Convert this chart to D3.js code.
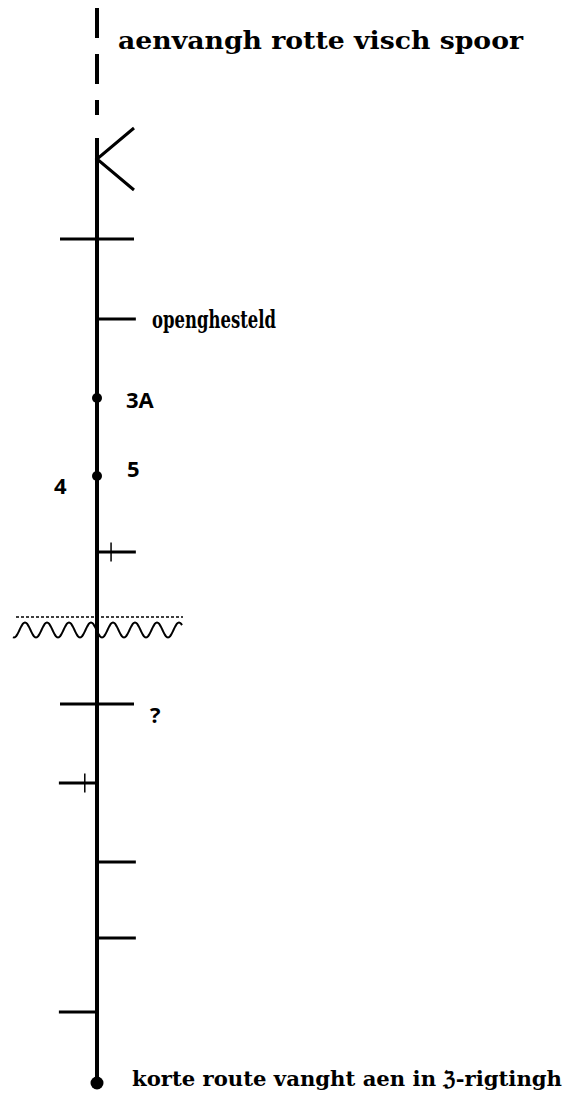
<!DOCTYPE html>
<html>
<head>
<meta charset="utf-8">
<script src="https://cdn.jsdelivr.net/npm/d3@7"></script>
<style>
  html, body { margin: 0; padding: 0; background: #fff; }
</style>
</head>
<body>
<svg id="chart" width="568" height="1094"></svg>
<script>
  //  1] Track data: distances along the line, top = 0 --------//
  const trackStart = 138;
  const trackEnd = 1083;
  const dashedStart = 8;
  const dashedEnd = 115;
  const switchAt = [159];                       // "K" shaped switch
  const crossings = [239, 704];                 // bars on both sides
  const rightTicks = [319, 552, 862, 938];
  const leftTicks = [783, 1012];
  const markedTicks = [552, 783];               // ticks with a small cross
  const stations = [398, 476];                  // small dots
  const endDot = [1083];
  const riverAt = 630;
  const levelAt = 617;

  const labels = [
    { text: "aenvangh rotte visch spoor", at: 49, side: "right", font: "frak", len: 405 },
    { text: "openghesteld", at: 328, side: "right", font: "frak", len: 124 },
    { text: "3A", at: 408, side: "right", font: "sans" },
    { text: "5", at: 477, side: "right", font: "sans" },
    { text: "4", at: 494, side: "left", font: "sans" },
    { text: "?", at: 723, side: "right", font: "sans" },
    { text: "korte route vanght aen in \u2128-rigtingh", at: 1086, side: "right", font: "frak", len: 430 }
  ];

  const width = 568;
  const height = 1094;
  const lineX = 97;

  //  2] Scales --------------------------------------------//
  const y = d3.scaleLinear().domain([0, height]).range([0, height]);
  const x = d3.scaleLinear().domain([-1, 1]).range([lineX - 37, lineX + 37]);

  const svg = d3.select("#chart");

  //  3] Main line: dashed top part and solid part ---------//
  svg.append("line")
    .attr("x1", x(0)).attr("x2", x(0))
    .attr("y1", y(dashedStart)).attr("y2", y(dashedEnd))
    .attr("stroke", "#000").attr("stroke-width", 4)
    .attr("stroke-dasharray", "30,16");

  svg.append("line")
    .attr("x1", x(0)).attr("x2", x(0))
    .attr("y1", y(trackStart)).attr("y2", y(trackEnd))
    .attr("stroke", "#000").attr("stroke-width", 4);

  //  4] Switch ------------------------------------------//
  svg.selectAll(".switch").data(switchAt).join("path")
    .attr("class", "switch")
    .attr("d", d => d3.line()([[x(1), y(d - 31)], [x(0), y(d)], [x(1), y(d + 31)]]))
    .attr("fill", "none").attr("stroke", "#000").attr("stroke-width", 3);

  //  5] Ticks ---------------------------------------------//
  svg.selectAll(".cross").data(crossings).join("line")
    .attr("class", "cross")
    .attr("x1", x(-1)).attr("x2", x(1))
    .attr("y1", d => y(d)).attr("y2", d => y(d))
    .attr("stroke", "#000").attr("stroke-width", 3);

  svg.selectAll(".rtick").data(rightTicks).join("line")
    .attr("class", "rtick")
    .attr("x1", x(0)).attr("x2", x(1.05))
    .attr("y1", d => y(d)).attr("y2", d => y(d))
    .attr("stroke", "#000").attr("stroke-width", 3);

  svg.selectAll(".ltick").data(leftTicks).join("line")
    .attr("class", "ltick")
    .attr("x1", x(0)).attr("x2", x(-1.03))
    .attr("y1", d => y(d)).attr("y2", d => y(d))
    .attr("stroke", "#000").attr("stroke-width", 3);

  svg.selectAll(".mark").data(markedTicks).join("line")
    .attr("class", "mark")
    .attr("x1", d => rightTicks.includes(d) ? x(0.38) : x(-0.33))
    .attr("x2", d => rightTicks.includes(d) ? x(0.38) : x(-0.33))
    .attr("y1", d => y(d - 9.5)).attr("y2", d => y(d + 9.5))
    .attr("stroke", "#000").attr("stroke-width", 1.5);

  //  6] Dots ----------------------------------------------//
  svg.selectAll(".station").data(stations).join("circle")
    .attr("class", "station")
    .attr("cx", x(0)).attr("cy", d => y(d)).attr("r", 5)
    .attr("fill", "#000");

  svg.selectAll(".end").data(endDot).join("circle")
    .attr("class", "end")
    .attr("cx", x(0)).attr("cy", d => y(d)).attr("r", 6.5)
    .attr("fill", "#000");

  //  7] Water level and river ------------------------------//
  svg.append("line")
    .attr("x1", 16).attr("x2", 183)
    .attr("y1", y(levelAt)).attr("y2", y(levelAt))
    .attr("stroke", "#000").attr("stroke-width", 1.3)
    .attr("stroke-dasharray", "3,2");

  const wave = d3.range(13, 182.5, 0.5).map(px => [px, y(riverAt) - 7.5 * Math.cos(2 * Math.PI * (px - 25) / 22)]);
  svg.append("path")
    .attr("d", d3.line().curve(d3.curveBasis)(wave))
    .attr("fill", "none").attr("stroke", "#000").attr("stroke-width", 2);

  //  8] Labels ---------------------------------------------//
  const labelX = { "3A": 126, "5": 127, "4": 54, "?": 150 };
  svg.selectAll(".label").data(labels).join("text")
    .attr("class", "label")
    .attr("x", d => d.font === "sans" ? labelX[d.text] : (d.at > 1000 ? 132 : d.at < 100 ? 118 : 152))
    .attr("y", d => y(d.at))
    .attr("font-family", d => d.font === "sans" ? "'Open Sans', sans-serif" : "'DejaVu Serif', serif")
    .attr("font-weight", "bold")
    .attr("font-size", d => d.font === "sans" ? 22 : (d.at > 1000 ? 20.5 : 24))
    .attr("textLength", d => d.len || null)
    .attr("lengthAdjust", "spacingAndGlyphs")
    .attr("fill", "#000")
    .text(d => d.text);
</script>
</body>
</html>
